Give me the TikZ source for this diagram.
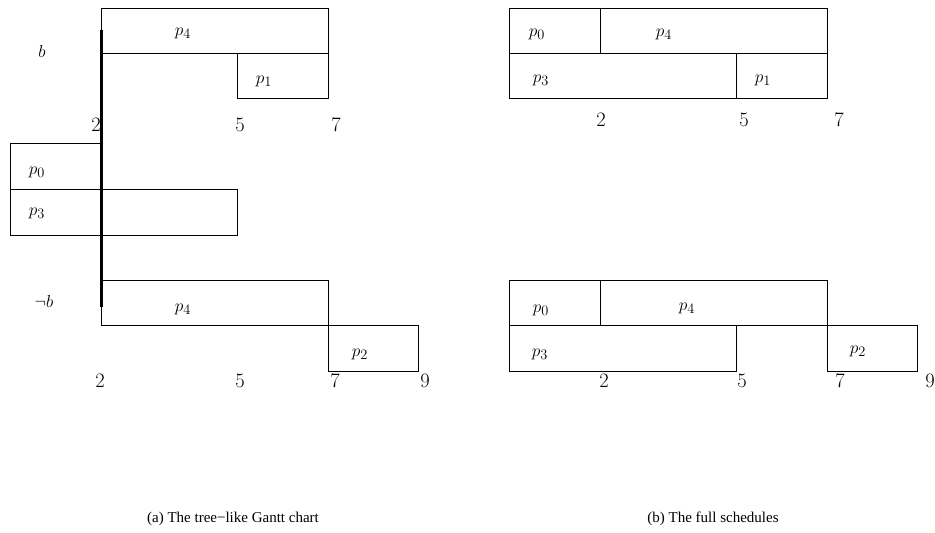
\documentclass[tikz,border=0pt]{standalone}
\usepackage{fontspec}
\newfontfamily\capfont{Liberation Serif}
\begin{document}
\begin{tikzpicture}[x=1pt,y=-1pt,
  box/.style={draw=black,line width=0.9pt},
  lbl/.style={inner sep=0pt,font=\fontsize{19}{21}\selectfont},
  tick/.style={inner sep=0pt,font=\fontsize{20.5}{22}\selectfont},
  captxt/.style={inner sep=0pt,font=\capfont\fontsize{15}{17}\selectfont},
  branch/.style={line width=3pt}]
\useasboundingbox (0,0) rectangle (935,533);
\fill[white] (0,0) rectangle (935,533);
% ---------- (a) left ----------
\draw[box] (101,8) rectangle (328,53);
\draw[box] (237,53) rectangle (328,98);
\draw[box] (10,143) rectangle (101,189);
\draw[box] (10,189) rectangle (237,235);
\draw[box] (101,280) rectangle (328,325);
\draw[box] (328,325) rectangle (418,371);
\coordinate (btop) at (101,30);
\coordinate (bbot) at (101,307);
\draw[branch] (btop) -- (bbot);
\node[lbl] (la4) at (183,33) {$p_4$};
\node[lbl] (la1) at (264,81) {$p_1$};
\node[lbl] (la0) at (37,172) {$p_0$};
\node[lbl] (la3) at (37,213) {$p_3$};
\node[lbl] (lb4) at (183,309) {$p_4$};
\node[lbl] (lb2) at (360,354) {$p_2$};
\node[lbl] (cb) at (42,51) {$b$};
\node[lbl] (cnb) at (44,301) {$\neg b$};
\node[tick] (ta2) at (96,125) {2};
\node[tick] (ta5) at (240,125) {5};
\node[tick] (ta7) at (336,125) {7};
\node[tick] (tb2) at (100,381) {2};
\node[tick] (tb5) at (240,381) {5};
\node[tick] (tb7) at (335,381) {7};
\node[tick] (tb9) at (425,381) {9};
% ---------- (b) right ----------
\draw[box] (509,8) rectangle (600,53);
\draw[box] (600,8) rectangle (827,53);
\draw[box] (509,53) rectangle (736,98);
\draw[box] (736,53) rectangle (827,98);
\draw[box] (509,280) rectangle (600,325);
\draw[box] (600,280) rectangle (827,325);
\draw[box] (509,325) rectangle (736,371);
\draw[box] (827,325) rectangle (917,371);
\node[lbl] (ra0) at (537,34) {$p_0$};
\node[lbl] (ra4) at (664,34) {$p_4$};
\node[lbl] (ra3) at (541,80) {$p_3$};
\node[lbl] (ra1) at (763,80) {$p_1$};
\node[lbl] (rb0) at (541,310) {$p_0$};
\node[lbl] (rb4) at (687,308) {$p_4$};
\node[lbl] (rb3) at (540,354) {$p_3$};
\node[lbl] (rb2) at (858,351) {$p_2$};
\node[tick] (sa2) at (601,120) {2};
\node[tick] (sa5) at (744,120) {5};
\node[tick] (sa7) at (839,120) {7};
\node[tick] (sb2) at (604,381) {2};
\node[tick] (sb5) at (742,381) {5};
\node[tick] (sb7) at (840,381) {7};
\node[tick] (sb9) at (930,381) {9};
% ---------- captions ----------
\node[captxt] (capa) at (233,519) {(a) The tree−like Gantt chart};
\node[captxt] (capb) at (713,519) {(b) The full schedules};
\end{tikzpicture}
\end{document}
